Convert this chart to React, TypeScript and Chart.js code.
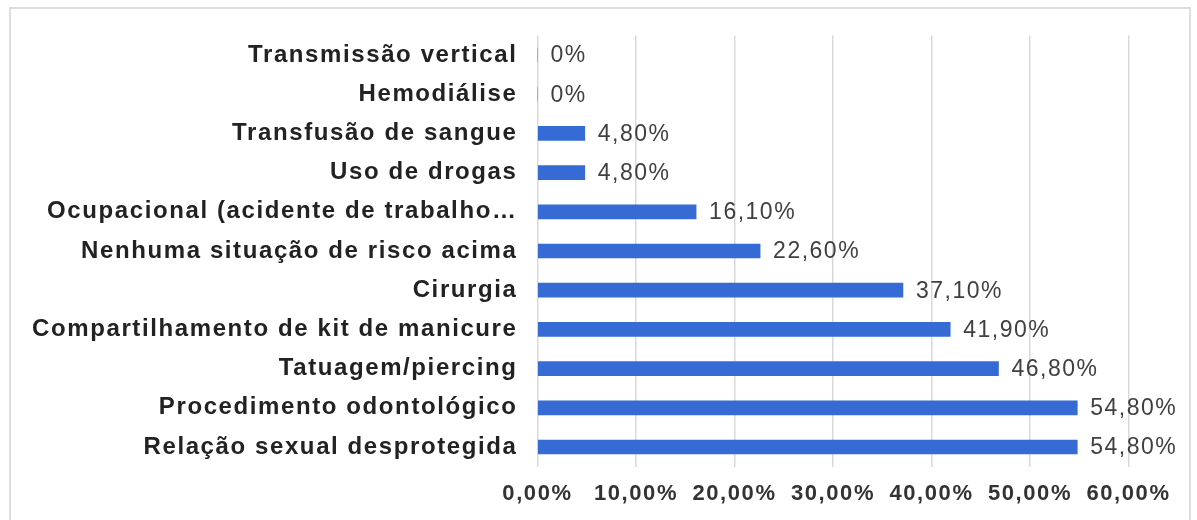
import React, { useEffect, useRef } from 'react';
import { Chart, registerables } from 'chart.js';

Chart.register(...registerables);

const categories = [
  'Transmissão vertical',
  'Hemodiálise',
  'Transfusão de sangue',
  'Uso de drogas',
  'Ocupacional (acidente de trabalho…',
  'Nenhuma situação de risco acima',
  'Cirurgia',
  'Compartilhamento de kit de manicure',
  'Tatuagem/piercing',
  'Procedimento odontológico',
  'Relação sexual desprotegida',
];
const values = [0, 0, 4.8, 4.8, 16.1, 22.6, 37.1, 41.9, 46.8, 54.8, 54.8];
const valueLabels = ['0%', '0%', '4,80%', '4,80%', '16,10%', '22,60%', '37,10%', '41,90%', '46,80%', '54,80%', '54,80%'];
const xTicks = [0, 10, 20, 30, 40, 50, 60];
const xTickLabels = ['0,00%', '10,00%', '20,00%', '30,00%', '40,00%', '50,00%', '60,00%'];

const FONT = '"Liberation Sans", Arial, sans-serif';

export default function App() {
  const ref = useRef<HTMLCanvasElement | null>(null);

  useEffect(() => {
    if (!ref.current) return;

    const spacingPlugin = {
      id: 'spacing',
      beforeUpdate(chart: any) {
        chart.ctx.letterSpacing = '1.6px';
      },
      beforeLayout(chart: any) {
        chart.ctx.letterSpacing = '1.6px';
      },
      beforeDraw(chart: any) {
        const ctx = chart.ctx;
        ctx.letterSpacing = '1.6px';
        ctx.save();
        ctx.fillStyle = '#ffffff';
        ctx.fillRect(0, 0, chart.width, chart.height);
        ctx.strokeStyle = '#dedede';
        ctx.lineWidth = 2;
        ctx.strokeRect(10, 8, 1180, 540);
        ctx.restore();
      },
    };

    const valuePlugin = {
      id: 'values',
      afterDatasetsDraw(chart: any) {
        const ctx = chart.ctx;
        const meta = chart.getDatasetMeta(0);
        ctx.save();
        ctx.font = '23px ' + FONT;
        ctx.letterSpacing = '1.5px';
        ctx.fillStyle = '#404040';
        ctx.textAlign = 'left';
        ctx.textBaseline = 'middle';
        meta.data.forEach((bar: any, i: number) => {
          ctx.fillText(valueLabels[i], bar.x + 13, bar.y + 1);
        });
        ctx.restore();
      },
    };

    const chart = new Chart(ref.current, {
      type: 'bar',
      data: {
        labels: categories,
        datasets: [
          {
            data: values,
            backgroundColor: '#366bd5',
            borderWidth: 0,
            barThickness: 14,
          },
        ],
      },
      options: {
        indexAxis: 'y',
        animation: false,
        responsive: true,
        maintainAspectRatio: false,
        layout: { padding: { left: 10, right: 68.5, top: 35.4, bottom: 0 } },
        plugins: {
          legend: { display: false },
          tooltip: { enabled: false },
        },
        scales: {
          x: {
            min: 0,
            max: 60,
            afterBuildTicks(scale: any) {
              scale.ticks = xTicks.map((v) => ({ value: v }));
            },
            afterFit(scale: any) {
              scale.height = 53.4;
            },
            grid: { color: '#d9d9d9', lineWidth: 1.5, drawTicks: false },
            border: { display: false },
            ticks: {
              padding: 14,
              color: '#333333',
              font: { family: FONT, size: 22, weight: 'bold' },
              callback: (v: any) => xTickLabels[xTicks.indexOf(Number(v))],
            },
          },
          y: {
            afterFit(scale: any) {
              scale.width = 527.5;
            },
            grid: { display: false, drawTicks: false },
            border: { display: false },
            ticks: {
              padding: 20,
              color: '#222222',
              font: { family: FONT, size: 24, weight: 'bold' },
            },
          },
        },
      },
      plugins: [spacingPlugin, valuePlugin],
    } as any);

    return () => chart.destroy();
  }, []);

  return (
    <div style={{ position: 'fixed', left: 0, top: 0, width: 1197, height: 520, background: '#fff' }}>
      <canvas ref={ref} />
    </div>
  );
}
